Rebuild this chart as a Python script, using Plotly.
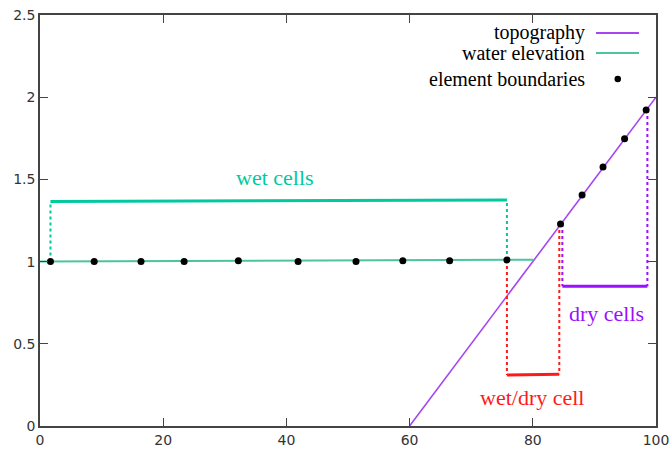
import plotly.graph_objects as go

# Bed profile: flat at depth until x=60, then a linear beach up to x=100
topo_x = [60, 100]
topo_y = [0.0, 2.0]

# Free-surface elevation over the wet region
water_x = [0, 75.8, 80.1]
water_y = [1.0, 1.01, 1.012]

# Element boundary positions and surface values there
boundary_x = [1.7, 8.8, 16.4, 23.4, 32.2, 41.9, 51.3, 58.9, 66.5, 75.8,
              84.5, 88.0, 91.4, 94.9, 98.4]
boundary_y = [1.0, 1.0, 1.0, 1.0, 1.005, 1.0, 1.0, 1.005, 1.005, 1.01,
              1.228, 1.405, 1.575, 1.748, 1.922]

# Cell-class brackets: [left edge, right edge], bracket level, base values at edges
wet_edges = [1.7, 75.8]
wet_level = [1.365, 1.375]
wet_base = [1.0, 1.01]

wetdry_edges = [75.8, 84.3]
wetdry_level = [0.31, 0.315]
wetdry_base = [1.01, 1.228]

dry_edges = [84.8, 98.6]
dry_level = [0.85, 0.85]
dry_base = [1.228, 1.922]

x_ticks = [0, 20, 40, 60, 80, 100]
y_ticks = [0, 0.5, 1, 1.5, 2, 2.5]
y_ticktext = ["0", "0.5", "1", "1.5", "2", "2.5"]

C_TOPO = "#a646f2"
C_WATER = "#4cc4a0"
C_WET = "#00c9a0"
C_RED = "#ff1a1a"
C_DRY = "#9a10ff"
SERIF = "Liberation Serif, DejaVu Serif, serif"

fig = go.Figure()


def bracket(edges, level, base, color):
    # solid bar at the bracket level, dotted drops to the base values
    fig.add_trace(go.Scatter(x=edges, y=level, mode="lines",
                             line=dict(color=color, width=3),
                             showlegend=False, hoverinfo="skip"))
    for i in range(2):
        fig.add_trace(go.Scatter(x=[edges[i], edges[i]], y=[base[i], level[i]],
                                 mode="lines",
                                 line=dict(color=color, width=2, dash="dot"),
                                 showlegend=False, hoverinfo="skip"))


fig.add_trace(go.Scatter(x=topo_x, y=topo_y, mode="lines",
                         line=dict(color=C_TOPO, width=1.6),
                         showlegend=False, cliponaxis=False))
fig.add_trace(go.Scatter(x=water_x, y=water_y, mode="lines",
                         line=dict(color=C_WATER, width=2),
                         showlegend=False))

bracket(wet_edges, wet_level, wet_base, C_WET)
bracket(wetdry_edges, wetdry_level, wetdry_base, C_RED)
bracket(dry_edges, dry_level, dry_base, C_DRY)

fig.add_trace(go.Scatter(x=boundary_x, y=boundary_y, mode="markers",
                         marker=dict(color="black", size=7),
                         showlegend=False, cliponaxis=False))

# Region labels
labels = [
    (38.2, 1.51, "wet cells", C_WET),
    (79.8, 0.175, "wet/dry cell", C_RED),
    (92.0, 0.685, "dry cells", C_DRY),
]
for lx, ly, txt, col in labels:
    fig.add_annotation(x=lx, y=ly, text=txt, showarrow=False,
                       font=dict(family=SERIF, size=22, color=col))

# Key, right-aligned text with samples to the right (paper coordinates)
def px_to_paper_x(px):
    return (px - 40) / 616.0


def px_to_paper_y(py):
    return (426 - py) / 411.0


key = [(33, "topography", "line", C_TOPO),
       (53, "water elevation", "line", C_WATER),
       (79, "element boundaries", "dot", "black")]
for ky, txt, kind, col in key:
    fig.add_annotation(xref="paper", yref="paper",
                       x=px_to_paper_x(587), y=px_to_paper_y(ky),
                       xanchor="right", yanchor="middle", text=txt,
                       showarrow=False,
                       font=dict(family=SERIF, size=20, color="black"))
    if kind == "line":
        fig.add_shape(type="line", xref="paper", yref="paper",
                      x0=px_to_paper_x(596), x1=px_to_paper_x(639),
                      y0=px_to_paper_y(ky), y1=px_to_paper_y(ky),
                      line=dict(color=col, width=2))
    else:
        fig.add_shape(type="circle", xref="paper", yref="paper",
                      x0=px_to_paper_x(614.5), x1=px_to_paper_x(621),
                      y0=px_to_paper_y(82.3), y1=px_to_paper_y(75.8),
                      fillcolor=col, line=dict(color=col, width=0))

axis_common = dict(showgrid=False, zeroline=False, showline=True,
                   linecolor="#444444", linewidth=1.5, mirror="ticks",
                   ticks="inside", ticklen=8, tickwidth=1.2, tickcolor="#444444",
                   automargin=False, ticklabeloverflow="allow",
                   tickfont=dict(family="DejaVu Sans, sans-serif", size=14,
                                 color="#333333"))

fig.update_xaxes(range=[0, 100], tickvals=x_ticks, **axis_common)
fig.update_yaxes(range=[0, 2.5], tickvals=y_ticks, ticktext=y_ticktext,
                 **axis_common)

fig.update_layout(width=669, height=454,
                  margin=dict(l=40, r=13, t=15, b=28),
                  paper_bgcolor="white", plot_bgcolor="white",
                  showlegend=False)

fig.write_html("out.html")
